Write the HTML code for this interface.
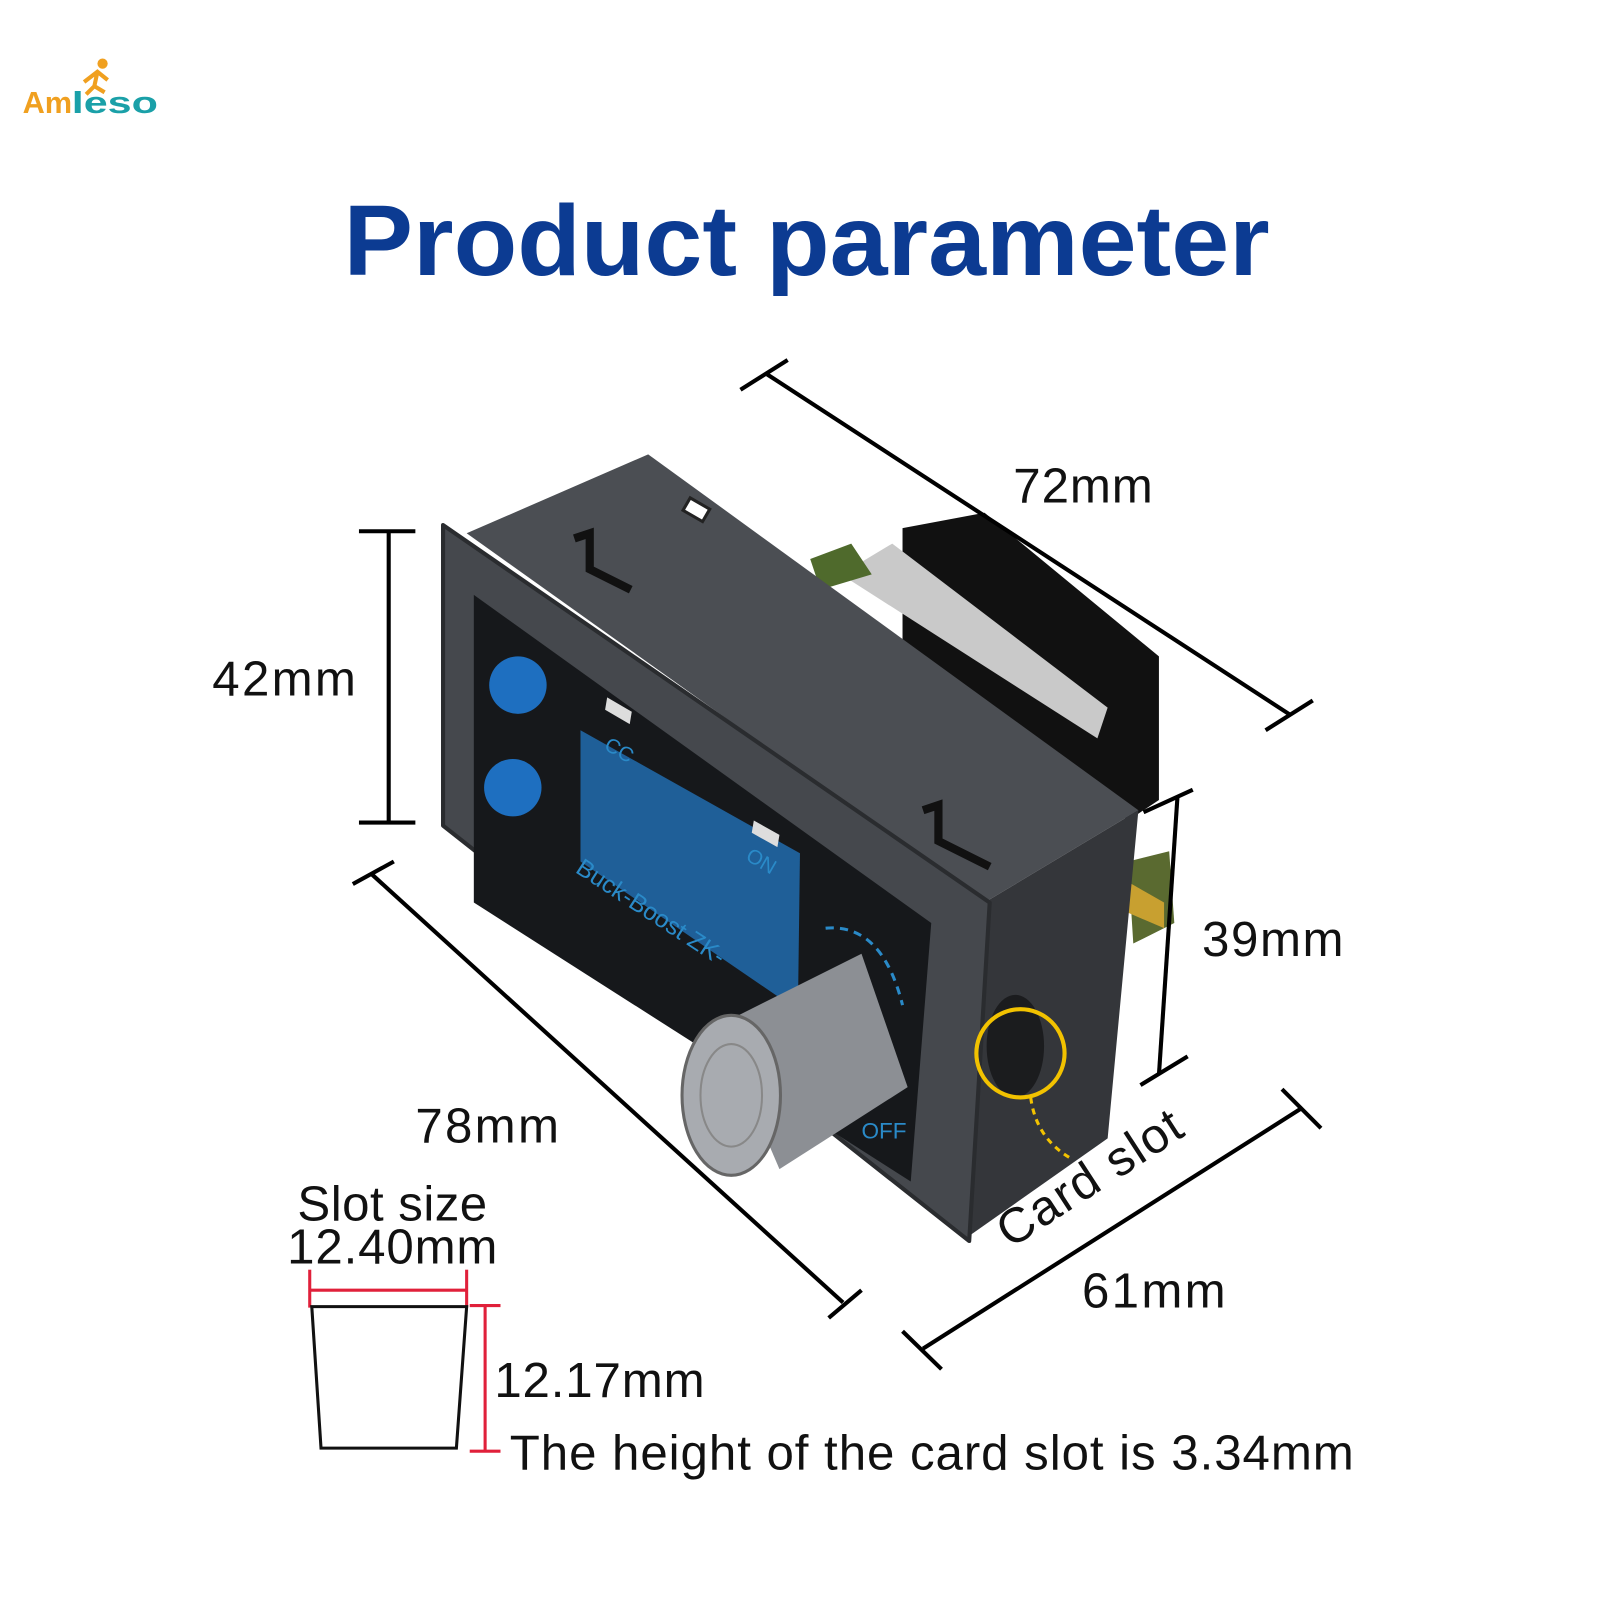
<!DOCTYPE html>
<html><head><meta charset="utf-8"><style>
html,body{margin:0;padding:0;background:#fff;}
svg{display:block;}
text{font-family:"Liberation Sans",sans-serif;}
</style></head><body>
<svg width="1600" height="1600" viewBox="0 0 1600 1600" xmlns="http://www.w3.org/2000/svg">
<rect width="1600" height="1600" fill="#fff"/>
<g transform="scale(1.0256)">
<!-- logo -->
<text x="22" y="110" font-size="30" font-weight="bold" fill="#f0a020">Am</text>
<text x="70" y="110" font-size="30" font-weight="bold" fill="#1aa0a8" textLength="84" lengthAdjust="spacingAndGlyphs">leso</text>
<circle cx="100" cy="62" r="5" fill="#f0a020"/>
<path d="M82 80 L95 70 L105 78 M95 70 L92 84 L84 92 M92 84 L102 90" stroke="#f0a020" stroke-width="4" fill="none"/>
<!-- title -->
<text x="335" y="268" font-size="98" font-weight="bold" fill="#0c3b92" textLength="903" lengthAdjust="spacingAndGlyphs">Product parameter</text>

<!-- device back parts -->
<polygon points="880,515 960,500 1130,640 1130,780 1100,800 880,650" fill="#111"/>
<polygon points="820,560 870,530 1080,690 1070,720" fill="#c9c9c9"/>
<polygon points="790,545 830,530 850,560 800,575" fill="#4f6a2c"/>
<polygon points="1100,840 1140,830 1145,900 1105,920" fill="#5a6a30"/>
<polygon points="1100,860 1135,880 1135,905 1100,890" fill="#c8a030"/>
<!-- top face -->
<polygon points="455,520 632,443 1110,790 960,880" fill="#4b4e53"/>
<path d="M560 525 L575 520 L575 555 L615 575" stroke="#111" stroke-width="8" fill="none"/>
<path d="M900 790 L915 785 L915 820 L965 845" stroke="#111" stroke-width="8" fill="none"/>
<rect x="668" y="490" width="22" height="14" fill="#fff" stroke="#222" stroke-width="3" transform="rotate(30 679 497)"/>
<!-- right side -->
<polygon points="960,880 1110,790 1080,1110 945,1205" fill="#34363a"/>
<!-- front bezel -->
<polygon points="432,512 965,880 945,1210 432,805" fill="#45484d" stroke="#2a2c2f" stroke-width="4" stroke-linejoin="round"/>
<polygon points="462,580 908,900 888,1152 462,880" fill="#16181b"/>
<!-- LCD -->
<polygon points="566,712 780,832 778,985 566,840" fill="#1f5f98"/>
<polygon points="592,680 616,694 614,706 590,692" fill="#ddd"/>
<polygon points="735,800 760,814 758,826 733,812" fill="#ddd"/>
<text x="588" y="730" font-size="20" fill="#2a8ac8" font-family="Liberation Serif" transform="rotate(30 588 730)">CC</text>
<text x="726" y="838" font-size="20" fill="#2a8ac8" font-family="Liberation Serif" transform="rotate(30 726 838)">ON</text>
<text x="560" y="850" font-size="24" fill="#2a8ac8" font-family="Liberation Serif" transform="rotate(33 560 850)">Buck-Boost ZK-</text>
<!-- buttons -->
<circle cx="505" cy="668" r="28" fill="#1e6fc0"/>
<circle cx="500" cy="768" r="28" fill="#1e6fc0"/>
<!-- knob -->
<polygon points="700,1000 840,930 885,1060 760,1140" fill="#8c8f94"/>
<ellipse cx="713" cy="1068" rx="48" ry="78" fill="#a8abb0" stroke="#666" stroke-width="3"/>
<ellipse cx="713" cy="1068" rx="30" ry="50" fill="none" stroke="#888" stroke-width="2"/>
<path d="M805 905 Q860 900 880 980" stroke="#2a8ac8" stroke-width="3" stroke-dasharray="8 6" fill="none"/>
<text x="840" y="1110" font-size="22" fill="#2a8ac8" font-family="Liberation Serif">OFF</text>
<!-- card slot -->
<ellipse cx="990" cy="1020" rx="28" ry="50" fill="#1b1c1e"/>
<circle cx="995" cy="1027" r="43" fill="none" stroke="#f2c200" stroke-width="4"/>
<path d="M1005 1070 Q1010 1110 1045 1130" stroke="#f2c200" stroke-width="3" stroke-dasharray="6 5" fill="none"/>

<!-- dimension lines -->
<g stroke="#000" stroke-width="4" fill="none">
<line x1="748" y1="365" x2="1258" y2="697"/>
<line x1="722" y1="380" x2="768" y2="351"/>
<line x1="1234" y1="712" x2="1280" y2="683"/>
<line x1="379" y1="518" x2="379" y2="802"/>
<line x1="350" y1="518" x2="405" y2="518"/>
<line x1="350" y1="802" x2="405" y2="802"/>
<line x1="1148" y1="778" x2="1130" y2="1048"/>
<line x1="1115" y1="792" x2="1163" y2="770"/>
<line x1="1112" y1="1058" x2="1158" y2="1030"/>
<line x1="362" y1="852" x2="822" y2="1270"/>
<line x1="344" y1="862" x2="384" y2="840"/>
<line x1="808" y1="1285" x2="840" y2="1258"/>
<line x1="900" y1="1315" x2="1270" y2="1080"/>
<line x1="880" y1="1298" x2="918" y2="1335"/>
<line x1="1250" y1="1062" x2="1288" y2="1100"/>
</g>
<g font-size="48" fill="#111">
<text x="988" y="490" textLength="136">72mm</text>
<text x="207" y="678" textLength="140">42mm</text>
<text x="1172" y="932" textLength="138">39mm</text>
<text x="405" y="1114" textLength="140">78mm</text>
<text x="1055" y="1275" textLength="140">61mm</text>
<text x="985" y="1218" transform="rotate(-33 985 1218)" textLength="205">Card slot</text>
<text x="290" y="1190" textLength="185">Slot size</text>
<text x="280" y="1232" textLength="205">12.40mm</text>
<text x="482" y="1362" textLength="205">12.17mm</text>
<text x="497" y="1433" textLength="823">The height of the card slot is 3.34mm</text>
</g>
<!-- slot drawing -->
<g stroke="#e0203a" stroke-width="3">
<line x1="302" y1="1258" x2="455" y2="1258"/>
<line x1="302" y1="1238" x2="302" y2="1275"/>
<line x1="455" y1="1238" x2="455" y2="1275"/>
<line x1="473" y1="1273" x2="473" y2="1415"/>
<line x1="458" y1="1273" x2="488" y2="1273"/>
<line x1="458" y1="1415" x2="488" y2="1415"/>
</g>
<polygon points="304,1274 455,1274 445,1412 313,1412" fill="none" stroke="#111" stroke-width="3"/>
</g>
</svg>
</body></html>
